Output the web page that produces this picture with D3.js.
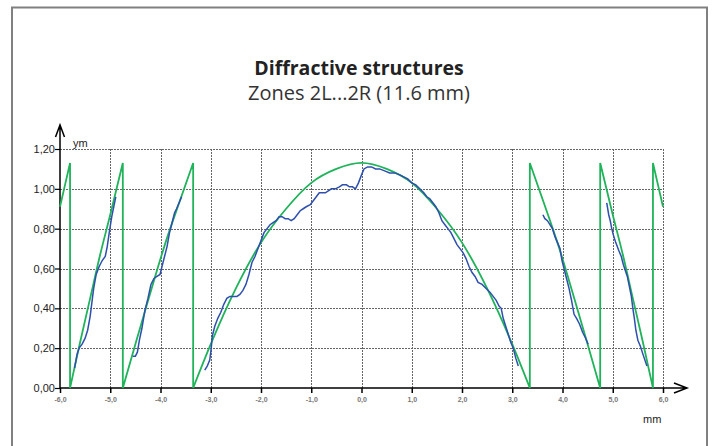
<!DOCTYPE html>
<html>
<head>
  <meta charset="utf-8">
  <title>Diffractive structures</title>
  <style>
    body { margin: 0; background: #fff; }
    .grid line { stroke: #666; stroke-width: 1; stroke-dasharray: 2,1; }
  </style>
</head>
<body>
  <script src="https://d3js.org/d3.v7.min.js"></script>
  <script>
// tick values and labels
var xTicks = [-6, -5, -4, -3, -2, -1, 0, 1, 2, 3, 4, 5, 6];
var xTickLabels = ["-6,0", "-5,0", "-4,0", "-3,0", "-2,0", "-1,0", "0,0", "1,0", "2,0", "3,0", "4,0", "5,0", "6,0"];
var yTicks = [0, 0.2, 0.4, 0.6, 0.8, 1.0, 1.2];
var yTickLabels = ["0,00", "0,20", "0,40", "0,60", "0,80", "1,00", "1,20"];

// design profile (green), one array per zone
var designZones = [
  [[-6.0, 0.91], [-5.9, 1.02], [-5.8, 1.13]],
  [[-5.8, 0], [-5.6, 0.23], [-5.4, 0.45], [-5.2, 0.67], [-5.0, 0.87], [-4.75, 1.13]],
  [[-4.75, 0], [-4.5, 0.22], [-4.2, 0.48], [-3.9, 0.73], [-3.6, 0.95], [-3.35, 1.13]],
  [[-3.35, 0], [-3.0, 0.22], [-2.5, 0.50], [-2.0, 0.73], [-1.5, 0.90], [-1.0, 1.03], [-0.5, 1.10], [0, 1.13],
   [0.5, 1.10], [1.0, 1.03], [1.5, 0.90], [2.0, 0.73], [2.5, 0.50], [3.0, 0.22], [3.35, 0]],
  [[3.35, 1.13], [3.6, 0.95], [3.9, 0.73], [4.2, 0.48], [4.5, 0.22], [4.75, 0]],
  [[4.75, 1.13], [5.0, 0.87], [5.2, 0.67], [5.4, 0.45], [5.6, 0.23], [5.8, 0]],
  [[5.8, 1.13], [5.9, 1.02], [6.0, 0.91]]
];

// measured profile (blue), one array per zone
var measured1 = [[-5.71, 0.10], [-5.66, 0.17], [-5.62, 0.20], [-5.56, 0.22], [-5.50, 0.25], [-5.45, 0.29], [-5.40, 0.36],
  [-5.36, 0.44], [-5.33, 0.50], [-5.28, 0.57], [-5.22, 0.61], [-5.16, 0.64], [-5.10, 0.66], [-5.06, 0.71],
  [-5.02, 0.78], [-4.97, 0.86], [-4.93, 0.91], [-4.89, 0.96]];
var measured2 = [[-4.55, 0.16], [-4.50, 0.16], [-4.46, 0.18], [-4.42, 0.24], [-4.37, 0.30], [-4.31, 0.39], [-4.25, 0.45],
  [-4.19, 0.52], [-4.13, 0.55], [-4.07, 0.56], [-4.01, 0.57], [-3.97, 0.61], [-3.92, 0.66], [-3.87, 0.71],
  [-3.82, 0.78], [-3.77, 0.83], [-3.72, 0.88], [-3.68, 0.90], [-3.63, 0.93], [-3.58, 0.96]];
var measured3 = [[-3.12, 0.09], [-3.07, 0.11], [-3.02, 0.14], [-2.99, 0.20], [-2.97, 0.26], [-2.92, 0.31], [-2.86, 0.35],
  [-2.80, 0.38], [-2.74, 0.42], [-2.68, 0.45], [-2.62, 0.46], [-2.55, 0.46], [-2.48, 0.46], [-2.42, 0.47],
  [-2.36, 0.49], [-2.30, 0.52], [-2.24, 0.57], [-2.18, 0.63], [-2.12, 0.66], [-2.06, 0.70], [-2.00, 0.74],
  [-1.94, 0.78], [-1.88, 0.80], [-1.82, 0.82], [-1.76, 0.83], [-1.70, 0.84], [-1.64, 0.86], [-1.58, 0.86],
  [-1.52, 0.85], [-1.46, 0.85], [-1.40, 0.84], [-1.34, 0.85], [-1.28, 0.87], [-1.22, 0.89], [-1.16, 0.90],
  [-1.10, 0.91], [-1.02, 0.92], [-0.96, 0.94], [-0.90, 0.96], [-0.84, 0.98], [-0.78, 0.98], [-0.72, 0.98],
  [-0.66, 0.99], [-0.60, 1.00], [-0.52, 1.00], [-0.44, 1.01], [-0.38, 1.02], [-0.30, 1.02], [-0.24, 1.01],
  [-0.18, 1.01], [-0.12, 1.00], [-0.06, 1.03], [0.00, 1.07], [0.05, 1.10], [0.12, 1.11], [0.20, 1.11],
  [0.28, 1.10], [0.36, 1.10], [0.46, 1.09], [0.56, 1.08], [0.66, 1.08], [0.76, 1.07], [0.84, 1.06],
  [0.92, 1.05], [1.00, 1.03], [1.08, 1.02], [1.16, 1.00], [1.24, 0.98], [1.30, 0.96], [1.36, 0.95],
  [1.42, 0.93], [1.48, 0.91], [1.54, 0.88], [1.60, 0.84], [1.66, 0.82], [1.72, 0.80], [1.78, 0.78],
  [1.84, 0.75], [1.90, 0.72], [1.96, 0.70], [2.02, 0.68], [2.08, 0.65], [2.14, 0.61], [2.20, 0.58],
  [2.26, 0.56], [2.32, 0.53], [2.40, 0.52], [2.48, 0.50], [2.56, 0.48], [2.62, 0.46], [2.68, 0.44],
  [2.74, 0.41], [2.78, 0.40], [2.82, 0.35], [2.87, 0.31], [2.92, 0.27], [2.97, 0.23], [3.02, 0.20],
  [3.07, 0.15], [3.12, 0.11]];
var measured4 = [[3.61, 0.87], [3.65, 0.85], [3.70, 0.84], [3.75, 0.82], [3.80, 0.80], [3.85, 0.76], [3.90, 0.73],
  [3.95, 0.70], [3.99, 0.64], [4.03, 0.60], [4.08, 0.55], [4.13, 0.50], [4.18, 0.44], [4.23, 0.37],
  [4.28, 0.35], [4.34, 0.32], [4.40, 0.28], [4.46, 0.25], [4.51, 0.22]];
var measured5 = [[4.88, 0.93], [4.92, 0.87], [4.95, 0.84], [4.98, 0.80], [5.01, 0.77], [5.06, 0.73], [5.12, 0.69],
  [5.17, 0.66], [5.21, 0.62], [5.25, 0.59], [5.29, 0.56], [5.33, 0.51], [5.37, 0.46], [5.40, 0.40],
  [5.43, 0.35], [5.46, 0.29], [5.50, 0.24], [5.55, 0.21], [5.60, 0.17], [5.64, 0.14], [5.68, 0.11]];

var width = 715, height = 446;
var svg = d3.select("body")
  .append("svg")
  .attr("width", width)
  .attr("height", height);

// outer frame (bottom edge is cut off)
svg.append("path")
  .attr("d", "M12,446V7.5H707V446")
  .attr("fill", "none")
  .attr("stroke", "#808080")
  .attr("stroke-width", 2);

// titles
svg.append("text")
  .attr("x", 359).attr("y", 75)
  .attr("text-anchor", "middle")
  .style("font", "bold 19.5px 'Open Sans', sans-serif")
  .attr("fill", "#222")
  .text("Diffractive structures");
svg.append("text")
  .attr("x", 359).attr("y", 100)
  .attr("text-anchor", "middle")
  .style("font", "20px 'Open Sans', sans-serif")
  .attr("fill", "#333")
  .text("Zones 2L...2R (11.6 mm)");

var x = d3.scaleLinear().domain([-6, 6]).range([60, 663]);
var y = d3.scaleLinear().domain([0, 1.2]).range([388, 149]);

// dotted grid
var grid = svg.append("g").attr("class", "grid");
grid.selectAll(".vg")
  .data(xTicks.slice(1))
  .enter().append("line")
  .attr("x1", function(d) { return Math.round(x(d)) + 0.5; })
  .attr("x2", function(d) { return Math.round(x(d)) + 0.5; })
  .attr("y1", y(1.2)).attr("y2", y(0));
grid.selectAll(".hg")
  .data(yTicks.slice(1))
  .enter().append("line")
  .attr("y1", function(d) { return Math.round(y(d)) + 0.5; })
  .attr("y2", function(d) { return Math.round(y(d)) + 0.5; })
  .attr("x1", x(-6)).attr("x2", x(6));

// axes
var xAxis = d3.axisBottom(x)
  .tickValues(xTicks)
  .tickSize(5)
  .tickFormat(function(d, i) { return xTickLabels[i]; });
var gx = svg.append("g").attr("transform", "translate(0," + y(0) + ")").call(xAxis);
gx.select(".domain").remove();
gx.selectAll(".tick line").attr("stroke", "#000").attr("stroke-width", 1.5);
gx.selectAll(".tick text")
  .attr("y", 9)
  .style("font", "bold 7px 'Liberation Sans', Arial, sans-serif")
  .attr("fill", "#777");

var yAxis = d3.axisLeft(y)
  .tickValues(yTicks)
  .tickSize(5)
  .tickFormat(function(d, i) { return yTickLabels[i]; });
var gy = svg.append("g").attr("transform", "translate(" + x(-6) + ",0)").call(yAxis);
gy.select(".domain").remove();
gy.selectAll(".tick line").attr("stroke", "#000").attr("stroke-width", 1.2);
gy.selectAll(".tick text")
  .attr("x", -5)
  .style("font", "11px 'Liberation Sans', Arial, sans-serif")
  .attr("fill", "#222");

// axis lines with open arrow heads
svg.append("path")
  .attr("d", "M" + x(-6) + "," + y(0) + "V125M55.5,137L" + x(-6) + ",125L64.5,137")
  .attr("fill", "none").attr("stroke", "#000").attr("stroke-width", 1.5);
svg.append("path")
  .attr("d", "M" + x(-6) + "," + y(0) + "H687M674,383L687,388L674,393")
  .attr("fill", "none").attr("stroke", "#000").attr("stroke-width", 1.5);

svg.append("text").attr("x", 73).attr("y", 147)
  .style("font", "11px 'Liberation Sans', Arial, sans-serif").attr("fill", "#222").text("ym");
svg.append("text").attr("x", 643).attr("y", 423)
  .style("font", "11px 'Liberation Sans', Arial, sans-serif").attr("fill", "#222").text("mm");

// design curve: zones joined by vertical jumps
var zoneLine = d3.line()
  .x(function(d) { return x(d[0]); })
  .y(function(d) { return y(d[1]); })
  .curve(d3.curveMonotoneX);
var designPath = designZones.map(function(z, i) {
  var p = zoneLine(z);
  return i === 0 ? p : "L" + p.slice(1);
}).join("");
svg.append("path")
  .attr("d", designPath)
  .attr("fill", "none")
  .attr("stroke", "#1fb35a")
  .attr("stroke-width", 1.8);

// measured curves
var measLine = d3.line()
  .x(function(d) { return x(d[0]); })
  .y(function(d) { return y(d[1]); });
svg.selectAll(".measured")
  .data([measured1, measured2, measured3, measured4, measured5])
  .enter().append("path")
  .attr("class", "measured")
  .attr("d", measLine)
  .attr("fill", "none")
  .attr("stroke", "#2e4fae")
  .attr("stroke-width", 1.5);
  </script>
</body>
</html>
